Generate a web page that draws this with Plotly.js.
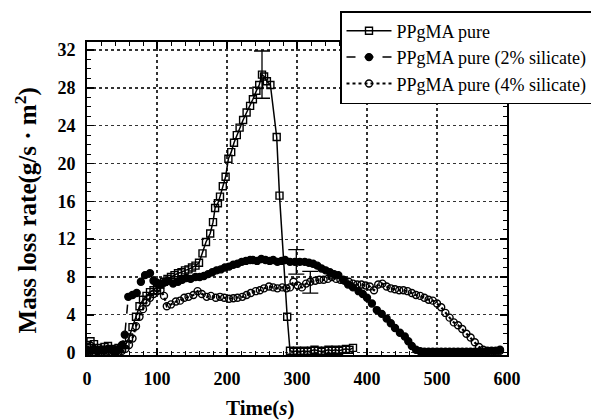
<!DOCTYPE html>
<html>
<head>
<meta charset="utf-8">
<script src="https://cdn.plot.ly/plotly-3.0.1.min.js"></script>
<style>html,body{margin:0;padding:0;background:#fff;overflow:hidden;width:591px;height:420px;}#chart{width:612px;height:420px;}</style>
</head>
<body>
<div id="chart"></div>
<script>
// ---- data ----
var seriesNames = ['PPgMA pure', 'PPgMA pure (2% silicate)', 'PPgMA pure (4% silicate)'];

var pureX = [0,5,10,15,20,25,30,35,40,45,50,55,60,65,70,75,80,85,90,95,100,105,110,115,120,125,130,135,140,145,150,155,160,165,170,176,180,183,187,190,194,198,202,206,210,214,218,223,228,233,237,242,246,250,253,257,262,271,275,286,290,295,300,305,310,315,320,325,330,335,340,345,350,355,360,365,370,375,380];
var pureY = [0.8,1.2,0.9,0.5,0.3,0.6,0.7,0.4,0.2,0.5,0.4,0.8,1.6,2.7,3.8,4.9,5.6,6.0,6.4,6.6,6.9,7.2,7.5,7.8,8.0,8.2,8.4,8.5,8.7,8.8,9.0,9.2,9.5,10.5,11.7,12.6,13.8,15.3,15.8,16.5,17.6,18.6,20.5,21.2,22.2,23.0,23.8,24.6,25.4,26.1,26.8,27.7,28.3,29.4,29.2,28.7,28.3,22.8,16.6,3.8,0.2,0.1,0.2,0.1,0.2,0.1,0.2,0.3,0.2,0.1,0.2,0.3,0.2,0.3,0.2,0.3,0.4,0.3,0.5];

var sil2X = [0,5,10,15,20,25,30,35,40,45,50,54,59,65,71,77,83,90,95,100,105,110,116,123,130,136,142,148,155,161,167,173,179,185,191,197,203,209,215,221,227,233,237,243,249,255,261,266,272,278,283,290,297,304,311,317,323,329,335,341,347,353,359,366,373,380,388,394,400,407,414,421,428,434,440,447,454,459,464,470,476,482,488,494,500,506,512,518,524,530,536,542,548,554,560,566,572,578,584,590];
var sil2Y = [0.3,0.2,0.4,0.1,0.3,0.2,0.4,0.3,0.2,0.4,0.8,1.9,5.9,6.1,6.3,7.5,8.2,8.4,7.6,7.4,7.2,7.4,7.6,7.3,7.5,7.7,7.9,7.8,8.0,8.0,8.1,8.3,8.5,8.7,8.8,9.0,9.1,9.3,9.4,9.6,9.7,9.8,9.8,9.7,9.9,9.8,9.7,9.8,9.6,9.7,9.8,9.6,9.6,9.6,9.6,9.5,9.4,9.2,8.9,8.7,8.5,8.3,8.2,7.7,7.2,6.9,6.5,6.2,5.8,5.2,4.5,4.1,3.6,3.1,2.6,2.1,1.7,1.2,0.7,0.3,0.15,0.1,0.1,0.1,0.1,0.1,0.1,0.1,0.1,0.1,0.1,0.1,0.1,0.1,0.1,0.1,0.2,0.2,0.2,0.3];

var sil4X = [0,5,10,15,20,25,30,35,40,45,50,55,60,65,70,75,80,85,90,95,100,105,110,114,120,127,133,139,145,152,158,164,171,177,184,190,196,203,209,215,222,228,234,241,247,253,260,266,272,279,285,290,295,301,307,313,319,326,332,338,344,350,356,362,368,374,380,386,392,398,404,410,416,422,428,434,440,446,452,458,464,470,476,482,488,494,500,506,512,518,524,530,536,542,548,554,560,566,572,578,584,590];
var sil4Y = [0.2,0.1,0.3,0.2,0.1,0.3,0.2,0.1,0.2,0.1,0.2,0.4,0.8,1.5,2.8,3.8,4.6,5.3,5.8,6.2,6.5,6.6,6.0,4.9,5.1,5.4,5.5,5.8,5.9,6.1,6.5,6.2,5.9,6.0,5.8,5.9,5.8,5.7,5.75,5.8,5.9,6.1,6.3,6.5,6.6,6.8,7.0,6.9,6.8,6.9,6.8,6.9,7.5,7.1,6.9,7.3,7.5,7.6,7.7,7.7,7.8,8.0,7.8,7.7,7.6,7.5,7.3,7.2,7.2,7.1,7.0,6.6,7.2,7.3,7.0,6.8,6.7,6.6,6.6,6.5,6.3,6.1,6.0,5.8,5.6,5.5,5.2,4.8,4.2,3.7,3.2,2.9,2.5,2.0,1.6,1.1,0.6,0.3,0.15,0.1,0.1,0.2];

// error bars (one per series)
var errX = [250, 299, 319];
var errY = [29.4, 9.6, 7.45];
var errVal = [2.5, 1.3, 1.15];

var xTickVals = [0,100,200,300,400,500,600];
var yTickVals = [0,4,8,12,16,20,24,28,32];

// ---- chart ----
var serif = '"Liberation Serif", "Times New Roman", serif';
var lineStyles = [
  {dash:'solid', width:1.5, symbol:'square-open'},
  {dash:'dash', width:1.5, symbol:'circle'},
  {dash:'dot', width:2.2, symbol:'circle-open'}
];
var xs = [pureX, sil2X, sil4X];
var ys = [pureY, sil2Y, sil4Y];

var traces = [];
for (var i = 0; i < 3; i++) {
  traces.push({
    x: xs[i], y: ys[i], name: seriesNames[i],
    type: 'scatter', mode: 'lines+markers',
    line: {color:'#000', width: lineStyles[i].width, dash: lineStyles[i].dash},
    marker: {symbol: lineStyles[i].symbol, size: 7, color:'#000', line:{color:'#000', width:1.4}}
  });
}
for (var j = 0; j < errX.length; j++) {
  traces.push({
    x: [errX[j]], y: [errY[j]], type:'scatter', mode:'markers', showlegend:false, hoverinfo:'skip',
    marker:{size:1, color:'rgba(0,0,0,0)'},
    error_y:{type:'data', array:[errVal[j]], visible:true, color:'#000', thickness:1.3, width:8}
  });
}

var axisCommon = {
  showline:true, linecolor:'#000', linewidth:2, mirror:'ticks',
  ticks:'inside', ticklen:7, tickwidth:1.5, tickcolor:'#000',
  showgrid:true, gridcolor:'#333', gridwidth:1.3, griddash:'dot',
  zeroline:false,
  tickfont:{family:serif, size:18, color:'#000', weight:'bold'},
  ticklabelstandoff:6
};

var layout = {
  width:612, height:420,
  margin:{l:87, r:105, t:41, b:65, pad:0},
  paper_bgcolor:'#fff', plot_bgcolor:'#fff',
  showlegend:true,
  xaxis: Object.assign({}, axisCommon, {
    range:[0,600], tickmode:'array', tickvals:xTickVals,
    minor:{dtick:20, tick0:0, ticks:'inside', ticklen:4, tickwidth:1, tickcolor:'#000', showgrid:false}
  }),
  yaxis: Object.assign({}, axisCommon, {
    range:[-0.25,32.85], tickmode:'array', tickvals:yTickVals,
    minor:{dtick:1, tick0:0, ticks:'inside', ticklen:4, tickwidth:1, tickcolor:'#000', showgrid:false}
  }),
  legend:{
    x:(340-87)/420, y:(355-11)/314, xanchor:'left', yanchor:'top',
    bgcolor:'#fff', bordercolor:'#000', borderwidth:1.5,
    font:{family:serif, size:18, color:'#000'},
    itemwidth:45, tracegroupgap:0
  },
  annotations:[
    {text:'Time(<i>s</i>)', xref:'paper', yref:'paper', x:(260-87)/420, y:-(408-355)/314,
     xanchor:'center', yanchor:'middle', showarrow:false,
     font:{family:serif, size:21, color:'#000', weight:'bold'}},
    {text:'Mass loss rate(g/s · m<sup>2</sup>)', xref:'paper', yref:'paper', x:-(87-26)/420, y:(355-210)/314,
     xanchor:'center', yanchor:'middle', showarrow:false, textangle:-90,
     font:{family:serif, size:25, color:'#000', weight:'bold'}}
  ]
};

Plotly.newPlot('chart', traces, layout, {displayModeBar:false, staticPlot:true});
</script>
</body>
</html>
